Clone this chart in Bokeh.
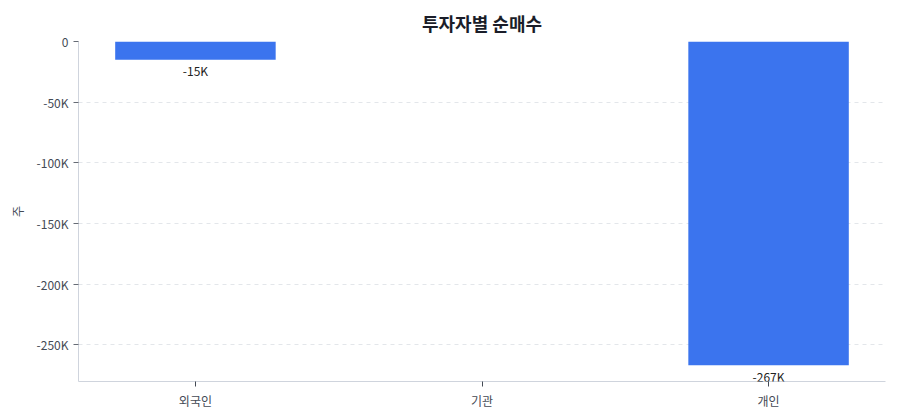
from bokeh.plotting import figure
from bokeh.models import FactorRange, Range1d, SingleIntervalTicker, CustomJSTickFormatter, ColumnDataSource, LabelSet
from bokeh.core.properties import value
from bokeh.embed import file_html
from bokeh.resources import INLINE

categories = ["외국인", "기관", "개인"]
net_buy = [-15000, 0, -267000]
bar_labels = ["-15K", "", "-267K"]
title_text = "투자자별 순매수"
y_label = "주"

FONT = "Noto Sans CJK KR"

src = ColumnDataSource(dict(cat=categories, v=net_buy, lab=bar_labels))

p = figure(
    width=900, height=420,
    x_range=FactorRange(factors=categories, range_padding=-0.0613),
    y_range=Range1d(min(net_buy) * 1.05, 0),
    output_backend="svg", toolbar_location=None,
    min_border_left=78, min_border_right=15, min_border_top=41, min_border_bottom=39,
)

p.vbar(x="cat", top="v", bottom=0, width=0.56, source=src,
       fill_color="#3B74EE", line_color=None)

labels = LabelSet(x="cat", y="v", text="lab", source=src, text_align="center",
                  text_baseline="middle", y_offset=-11, text_font=value(FONT),
                  text_font_size="12px", text_color="#222222", level="overlay")
p.add_layout(labels)

p.title.text = title_text
p.title.align = "center"
p.title.text_font = FONT
p.title.text_font_size = "18px"
p.title.text_font_style = "bold"
p.title.text_color = "#1a1d29"
p.title.offset = 0
p.title.standoff = 12

p.outline_line_color = None
p.background_fill_color = "white"
p.border_fill_color = "white"

p.xgrid.grid_line_color = None
p.ygrid.grid_line_color = "#e3e6ea"
p.ygrid.grid_line_dash = "4 4"
p.ygrid.grid_line_width = 1

p.yaxis.ticker = SingleIntervalTicker(interval=50000)
p.yaxis.formatter = CustomJSTickFormatter(code="return tick == 0 ? '0' : (tick/1000).toFixed(0) + 'K';")
p.yaxis.axis_label = y_label
p.yaxis.axis_label_text_font = FONT
p.yaxis.axis_label_text_font_style = "normal"
p.yaxis.axis_label_text_font_size = "12px"
p.yaxis.axis_label_text_color = "#444a55"
p.yaxis.axis_label_standoff = 8

for ax in (p.xaxis, p.yaxis):
    ax.axis_line_color = "#cfd4dd"
    ax.major_tick_line_color = "#666b75"
    ax.major_tick_out = 5
    ax.major_tick_in = 0
    ax.minor_tick_line_color = None
    ax.major_label_text_font = FONT
    ax.major_label_text_font_size = "12px"
    ax.major_label_text_color = "#444a55"
    ax.major_label_standoff = 5

p.xaxis.major_tick_line_color = "#444a55"

open("out.html", "w").write(file_html(p, INLINE))
